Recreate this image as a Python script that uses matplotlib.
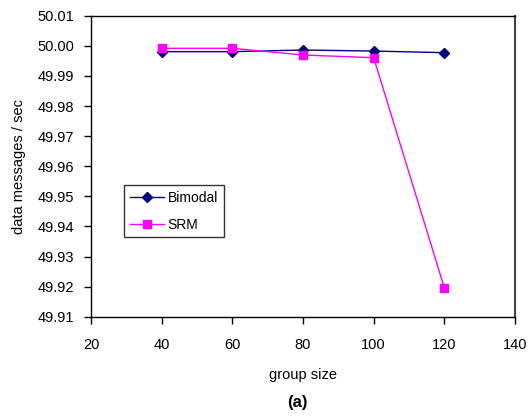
import matplotlib
matplotlib.use("Agg")
import matplotlib.pyplot as plt

plt.rcParams['font.family'] = ['Liberation Sans', 'DejaVu Sans']

group_size = [40, 60, 80, 100, 120]
bimodal = [49.99805, 49.99805, 49.99860, 49.99825, 49.99772]
srm = [49.99917, 49.99917, 49.99694, 49.99605, 49.91960]

x_ticks = [20, 40, 60, 80, 100, 120, 140]
y_ticks = [49.91, 49.92, 49.93, 49.94, 49.95, 49.96, 49.97, 49.98, 49.99, 50.00, 50.01]

fig = plt.figure(figsize=(5.30, 4.16), dpi=100)
ax = fig.add_axes([91/530, 1 - 316.7/416, (515-91)/530, (316.7-15.7)/416])

ax.plot(group_size, bimodal, color='#000080', marker='D', markersize=5.5, lw=1.0, label='Bimodal')
ax.plot(group_size, srm, color='#FF00FF', marker='s', markersize=5.5, lw=1.0, label='SRM')

ax.set_xlim(20, 140)
ax.set_ylim(49.91, 50.01)
ax.set_xticks(x_ticks)
ax.set_yticks(y_ticks)
ax.set_yticklabels([f"{v:.2f}" for v in y_ticks])
ax.tick_params(direction='out', length=5, width=1, labelsize=10.5, color='black')
ax.tick_params(axis='y', pad=7)
ax.tick_params(axis='x', pad=10)
for s in ax.spines.values():
    s.set_linewidth(1.0)
ax.spines['top'].set_color('black')
ax.spines['right'].set_color('#444444')
ax.spines['right'].set_linewidth(1.5)

ax.set_xlabel('group size', fontsize=10.5, labelpad=12)
ax.set_ylabel('data messages / sec', fontsize=10.5, labelpad=8)

leg = ax.legend(loc='upper left', bbox_to_anchor=((124-91)/424, 1 - (185-15.7)/301),
                fontsize=10, frameon=True, fancybox=False, edgecolor='black',
                borderpad=0.4, handlelength=2.45, labelspacing=0.95, borderaxespad=0,
                handletextpad=0.3)
leg.get_frame().set_linewidth(1.0)

fig.text(ax.get_position().x0 + ax.get_position().width * 0.5 - 0.01, 1 - 403/416, '(a)',
         ha='center', va='center', fontsize=12, fontweight='bold')

fig.savefig('out.png', dpi=100)
